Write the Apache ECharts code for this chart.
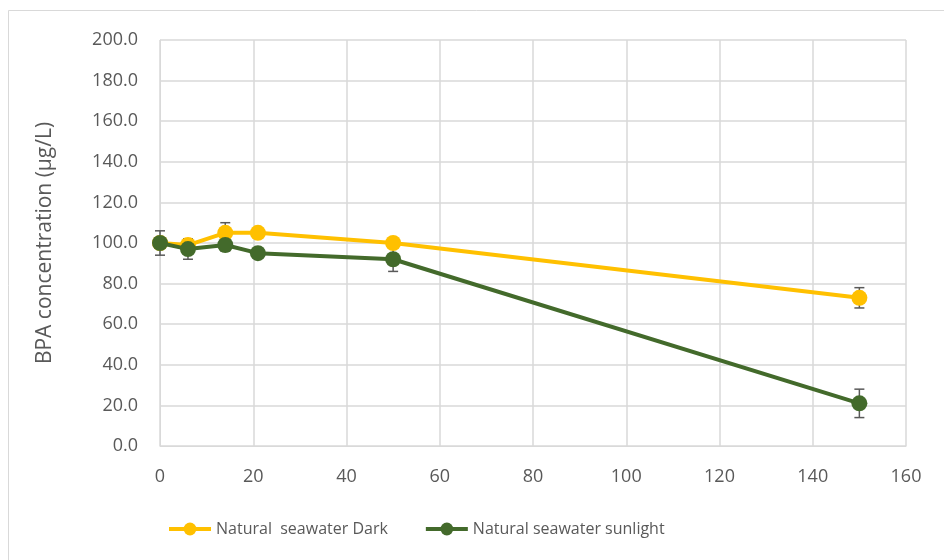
<!DOCTYPE html>
<html>
<head>
<meta charset="utf-8">
<script src="https://cdn.jsdelivr.net/npm/echarts@6/dist/echarts.min.js"></script>
<style>
  html, body { margin: 0; padding: 0; background: #fff; }
  #chart { width: 944px; height: 560px; }
</style>
</head>
<body>
<div id="chart"></div>
<script>
// time points
const times = [0, 6, 14, 21, 50, 150];
// BPA concentration (µg/L)
const darkValues = [100, 99, 105, 105, 100, 73];
const darkErrors = [2, 3, 5, 1, 1, 5];
const sunValues = [100, 97, 99, 95, 92, 21];
const sunErrors = [6, 5, 3, 1, 6, 7];
const seriesNames = ["Natural  seawater Dark", "Natural seawater sunlight"];

const textColor = "#595959";
const font = "'Open Sans', 'Liberation Sans', sans-serif";

function pairs(xs, ys) {
  return xs.map((x, i) => [x, ys[i]]);
}
function errItems(xs, ys, es) {
  return xs.map((x, i) => [x, ys[i] - es[i], ys[i] + es[i]]);
}

function errorBars(name, items) {
  return {
    name: name + " err",
    type: "custom",
    silent: true,
    z: 1,
    renderItem: function (params, api) {
      const x = api.value(0);
      const lo = api.coord([x, api.value(1)]);
      const hi = api.coord([x, api.value(2)]);
      const half = 5;
      const style = { stroke: textColor, lineWidth: 1.5 };
      return {
        type: "group",
        children: [
          { type: "line", shape: { x1: lo[0], y1: lo[1], x2: hi[0], y2: hi[1] }, style: style },
          { type: "line", shape: { x1: lo[0] - half, y1: lo[1], x2: lo[0] + half, y2: lo[1] }, style: style },
          { type: "line", shape: { x1: hi[0] - half, y1: hi[1], x2: hi[0] + half, y2: hi[1] }, style: style }
        ]
      };
    },
    encode: { x: 0, y: [1, 2] },
    data: items
  };
}

const myChart = echarts.init(document.getElementById("chart"));
myChart.setOption({
  animation: false,
  backgroundColor: "#fff",
  textStyle: { fontFamily: font },
  graphic: [
    {
      type: "rect",
      shape: { x: 8.5, y: 10.5, width: 1000, height: 1000 },
      style: { fill: "none", stroke: "#d9d9d9", lineWidth: 1 },
      silent: true,
      z: -1
    }
  ],
  grid: { left: 160, right: 38, top: 40, bottom: 114 },
  legend: {
    bottom: 18,
    left: 162,
    itemWidth: 42,
    itemHeight: 16,
    itemGap: 36,
    data: seriesNames,
    lineStyle: { width: 4 },
    textStyle: { color: textColor, fontSize: 16, fontFamily: font }
  },
  xAxis: {
    type: "value",
    min: 0,
    max: 160,
    interval: 20,
    axisLine: { show: true, lineStyle: { color: "#d9d9d9" } },
    axisTick: { show: false },
    axisLabel: { color: textColor, fontSize: 18, margin: 22 },
    splitLine: { show: true, lineStyle: { color: "#d9d9d9", width: 1.5 } }
  },
  yAxis: {
    type: "value",
    min: 0,
    max: 200,
    interval: 20,
    name: "BPA concentration (µg/L)",
    nameLocation: "middle",
    nameGap: 104,
    nameTextStyle: { color: textColor, fontSize: 21, fontFamily: font },
    axisLine: { show: true, lineStyle: { color: "#d9d9d9" } },
    axisTick: { show: false },
    axisLabel: {
      color: textColor,
      fontSize: 18,
      margin: 22,
      formatter: (v) => v.toFixed(1)
    },
    splitLine: { show: true, lineStyle: { color: "#d9d9d9", width: 1.5 } }
  },
  series: [
    errorBars(seriesNames[0], errItems(times, darkValues, darkErrors)),
    errorBars(seriesNames[1], errItems(times, sunValues, sunErrors)),
    {
      name: seriesNames[0],
      type: "line",
      z: 3,
      data: pairs(times, darkValues),
      symbol: "circle",
      symbolSize: 16,
      itemStyle: { color: "#FFC000" },
      lineStyle: { color: "#FFC000", width: 4 }
    },
    {
      name: seriesNames[1],
      type: "line",
      z: 4,
      data: pairs(times, sunValues),
      symbol: "circle",
      symbolSize: 16,
      itemStyle: { color: "#436A2B" },
      lineStyle: { color: "#436A2B", width: 4 }
    }
  ]
});
</script>
</body>
</html>
